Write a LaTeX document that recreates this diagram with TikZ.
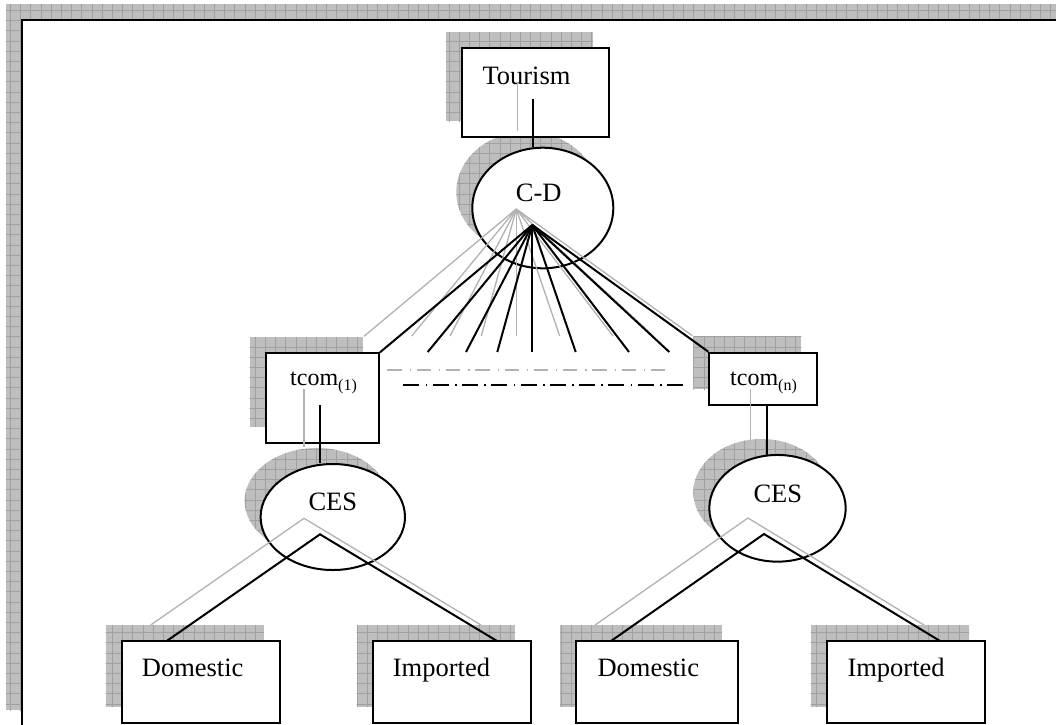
\documentclass[tikz,border=0pt]{standalone}
\usepackage{fontspec}
\setmainfont{Liberation Serif}
\usetikzlibrary{shapes.geometric}
\definecolor{shcol}{RGB}{190,190,190}
\definecolor{shgrid}{RGB}{160,160,160}
\definecolor{shline}{RGB}{178,178,178}
\begin{document}
\begin{tikzpicture}[x=1pt,y=-1pt,
  shadowfill/.style={fill=shcol, path picture={\draw[shgrid,line width=0.5pt] ([xshift=-12pt,yshift=-12pt]path picture bounding box.south west) grid[step=10.2pt] ([xshift=12pt,yshift=12pt]path picture bounding box.north east);}},
  box/.style={draw=black, line width=2pt, fill=white, rectangle, inner sep=0pt},
  ell/.style={draw=black, line width=2pt, fill=white, ellipse, inner sep=0pt},
  lbl/.style={font=\fontsize{26.5}{30}\selectfont, inner sep=0pt, anchor=base west},
  tlbl/.style={font=\fontsize{24}{28}\selectfont, inner sep=0pt, anchor=base west},
  conn/.style={draw=black, line width=2pt},
  sconn/.style={draw=shline, line width=1.3pt},
  sh/.style={shift={(-16,-16)}}
]
\useasboundingbox (0,0) rectangle (1056,724);
\clip (0,0) rectangle (1056,724);
% frame
\path[shadowfill] (6,4) rectangle (1072,710);
\draw[line width=2.5pt, fill=white] (22,20) rectangle (1088,726);

% shadows of shapes
\path[shadowfill] (446,32.3) rectangle (593,121.3);
\path[shadowfill] (526.8,192) ellipse [x radius=70.5pt, y radius=60.3pt];
\path[shadowfill] (249.7,337.3) rectangle (363,426.7);
\path[shadowfill] (693.3,336.7) rectangle (801.3,389);
\path[shadowfill] (316.8,501) ellipse [x radius=72.2pt, y radius=53pt];
\path[shadowfill] (761.5,492.3) ellipse [x radius=68.2pt, y radius=53.3pt];
\path[shadowfill] (105.7,625) rectangle (264,706.7);
\path[shadowfill] (356.7,625) rectangle (515,706.7);
\path[shadowfill] (560,625) rectangle (721.7,706.7);
\path[shadowfill] (810.7,625) rectangle (969,706.7);

% shapes
\node[box, minimum width=147.3, minimum height=89] (tour) at (535.35,92.8) {};
\node[ell, minimum width=141, minimum height=120.6] (cd) at (542.8,208) {};
\node[box, minimum width=113.3, minimum height=89.4] (tcom1) at (322.35,398) {};
\node[box, minimum width=108, minimum height=52.3] (tcomn) at (763.3,378.85) {};
\node[ell, minimum width=144.4, minimum height=106] (ces1) at (332.8,517) {};
\node[ell, minimum width=136.4, minimum height=106.7] (ces2) at (777.5,508.3) {};
\node[box, minimum width=158.3, minimum height=81.7] (dom1) at (200.85,681.85) {};
\node[box, minimum width=158.3, minimum height=81.7] (imp1) at (451.85,681.85) {};
\node[box, minimum width=161.7, minimum height=81.7] (dom2) at (656.85,681.85) {};
\node[box, minimum width=158.3, minimum height=81.7] (imp2) at (905.85,681.85) {};

% texts
\node[lbl] (tTour) at (482.3,84) {Tourism};
\node[lbl] (tCD) at (515.7,201) {C-D};
\node[tlbl] (tT1) at (290,385) {tcom{\fontsize{16}{18}\selectfont\raisebox{-5pt}{(1)}}};
\node[tlbl] (tTn) at (730,385) {tcom{\fontsize{16}{18}\selectfont\raisebox{-5pt}{(n)}}};
\node[lbl] (tC1) at (308.3,510.7) {CES};
\node[lbl] (tC2) at (753.3,502.3) {CES};
\node[lbl] (tD1) at (141.7,676.7) {Domestic};
\node[lbl] (tI1) at (392.7,676.7) {Imported};
\node[lbl] (tD2) at (597.3,676.7) {Domestic};
\node[lbl] (tI2) at (847.3,676.7) {Imported};

% connector points
\coordinate (tourA) at (533.3,99.3);
\coordinate (tourB) at (tourA |- cd.north);
\coordinate (cdA) at (532.3,225);
\coordinate (f1) at (tcom1.north east);
\coordinate (f2) at (427.7,352);
\coordinate (f3) at (466,352);
\coordinate (f4) at (497.3,352);
\coordinate (f5) at (532.3,352);
\coordinate (f6) at (575.7,352);
\coordinate (f7) at (629,352);
\coordinate (f8) at (669.3,352);
\coordinate (f9) at (tcomn.north west);
\coordinate (t1A) at (320,405);
\coordinate (t1B) at (t1A |- ces1.north);
\coordinate (tnA) at (766.7,405);
\coordinate (tnB) at (766.7,456);
\coordinate (c1A) at (320,534.3);
\coordinate (d1T) at (166.7,641);
\coordinate (i1T) at (497,641);
\coordinate (c2A) at (764,534);
\coordinate (d2T) at (611,641);
\coordinate (i2T) at (940,641);
\coordinate (dl) at (403.3,385);
\coordinate (dr) at (687.3,385);

% shadow connectors
\draw[sconn] ([sh]tourA) -- ([sh]tourB);
\foreach \n in {f1,f2,f3,f4,f5,f6,f7,f8,f9}{\draw[sconn] ([sh]cdA) -- ([sh]\n);}
\draw[sconn] ([sh]t1A) -- ([sh]t1B);
\draw[sconn] ([sh]tnA) -- ([sh]tnB);
\draw[sconn] ([sh]d1T) -- ([sh]c1A) -- ([sh]i1T);
\draw[sconn] ([sh]d2T) -- ([sh]c2A) -- ([sh]i2T);
\draw[sconn, line width=1.1pt, dash pattern=on 14.3pt off 8pt on 1.3pt off 5.7pt] ([shift={(-16,-15)}]dl) -- ([shift={(-16,-15)}]dr);

% black connectors
\draw[conn] (tourA) -- (tourB);
\foreach \n in {f1,f2,f3,f4,f5,f6,f7,f8,f9}{\draw[conn] (cdA) -- (\n);}
\draw[conn] (t1A) -- (t1B);
\draw[conn] (tnA) -- (tnB);
\draw[conn] (d1T) -- (c1A) -- (i1T);
\draw[conn] (d2T) -- (c2A) -- (i2T);
\draw[conn, line width=2.5pt, dash pattern=on 16pt off 6.3pt on 1.7pt off 5.3pt] (dl) -- (dr);
\end{tikzpicture}
\end{document}
